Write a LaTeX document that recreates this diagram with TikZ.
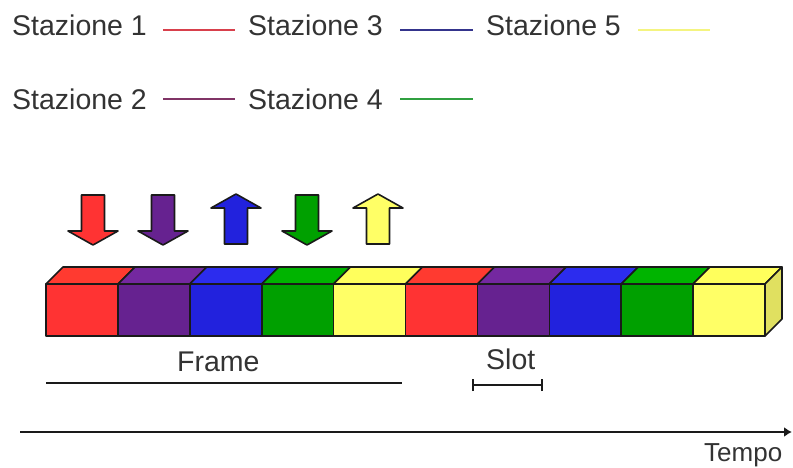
\documentclass[tikz,border=0pt]{standalone}
\usepackage{fontspec}
\setmainfont{Liberation Sans}
\usetikzlibrary{arrows.meta}

% slot colours: front faces, top faces
\definecolor{txt}{HTML}{333333}
\definecolor{edge}{HTML}{1A1A1A}
\definecolor{sred}{HTML}{FF3333}
\definecolor{spurple}{HTML}{662290}
\definecolor{sblue}{HTML}{2222DD}
\definecolor{sgreen}{HTML}{00A000}
\definecolor{syellow}{HTML}{FFFF66}
\definecolor{tred}{HTML}{FF3A30}
\definecolor{tpurple}{HTML}{7428A0}
\definecolor{tblue}{HTML}{2C2CEE}
\definecolor{tgreen}{HTML}{00B400}
\definecolor{tyellow}{HTML}{FFFF5C}
\definecolor{syside}{HTML}{E0E060}
% legend line colours
\definecolor{lred}{HTML}{D8404C}
\definecolor{lpurple}{HTML}{803466}
\definecolor{lblue}{HTML}{34348C}
\definecolor{lgreen}{HTML}{30A040}
\definecolor{lyellow}{HTML}{F4F480}

\begin{document}
\begin{tikzpicture}[x=1pt,y=-1pt,
  lbl/.style={inner sep=0pt, anchor=base west, text=txt,
              font=\fontsize{28.5}{30}\selectfont},
  keyline/.style={line width=2pt},
  face/.style={draw=edge, line width=1.6pt, line join=round},
  dnarrow/.pic={
    \path[face, fill=#1] (-11.5,-25) -- (11.5,-25) -- (11.5,11) -- (25,11)
      -- (0,25) -- (-25,11) -- (-11.5,11) -- cycle;},
  uparrow/.pic={
    \path[face, fill=#1] (-11.5,25) -- (11.5,25) -- (11.5,-11) -- (25,-11)
      -- (0,-25) -- (-25,-11) -- (-11.5,-11) -- cycle;}
]
\useasboundingbox (0,0) rectangle (793,468);

% ---- legend ----
\node[lbl] (st1) at (12,36)  {Stazione 1};
\node[lbl] (st3) at (248,36) {Stazione 3};
\node[lbl] (st5) at (486,36) {Stazione 5};
\node[lbl] (st2) at (12,110) {Stazione 2};
\node[lbl] (st4) at (248,110){Stazione 4};

\coordinate (k1a) at (163,30); \coordinate (k1b) at (235,30);
\coordinate (k3a) at (400,30); \coordinate (k3b) at (473,30);
\coordinate (k5a) at (638,30); \coordinate (k5b) at (710,30);
\coordinate (k2a) at (163,99); \coordinate (k2b) at (235,99);
\coordinate (k4a) at (400,99); \coordinate (k4b) at (473,99);
\draw[keyline, lred]    (k1a) -- (k1b);
\draw[keyline, lblue]   (k3a) -- (k3b);
\draw[keyline, lyellow] (k5a) -- (k5b);
\draw[keyline, lpurple] (k2a) -- (k2b);
\draw[keyline, lgreen]  (k4a) -- (k4b);

% ---- direction arrows above the first frame ----
\pic at (93,220)  {dnarrow=sred};
\pic at (163,220) {dnarrow=spurple};
\pic at (236,219) {uparrow=sblue};
\pic at (307,220) {dnarrow=sgreen};
\pic at (378,219) {uparrow=syellow};

% ---- row of ten slots drawn as a long bar ----
\foreach \i/\f/\t in {0/sred/tred,1/spurple/tpurple,2/sblue/tblue,3/sgreen/tgreen,4/syellow/tyellow,
                      5/sred/tred,6/spurple/tpurple,7/sblue/tblue,8/sgreen/tgreen,9/syellow/tyellow}{
  \pgfmathsetmacro{\xa}{46+71.9*\i}
  \pgfmathsetmacro{\xb}{46+71.9*(\i+1)}
  \path[face, fill=\t] (\xa,284) -- (\xa+17,267) -- (\xb+17,267) -- (\xb,284) -- cycle;
  \path[face, fill=\f] (\xa,284) rectangle (\xb,336);
}
\path[face, fill=syside] (765,284) -- (782,267) -- (782,319) -- (765,336) -- cycle;

% ---- frame and slot measures ----
\node[lbl] (frame) at (177,371) {Frame};
\coordinate (fa) at (46,383); \coordinate (fb) at (402,383);
\draw[line width=2pt, edge] (fa) -- (fb);

\node[lbl] (slot) at (486,369) {Slot};
\coordinate (sa) at (473,385); \coordinate (sb) at (542,385);
\draw[line width=1.6pt, edge] (sa) -- (sb);
\draw[line width=1.6pt, edge] ([yshift=-6]sa) -- ([yshift=6]sa);
\draw[line width=1.6pt, edge] ([yshift=-6]sb) -- ([yshift=6]sb);

% ---- time axis ----
\coordinate (ta) at (20,432); \coordinate (tb) at (792,432);
\draw[line width=2pt, edge, -{Latex[length=8pt,width=10pt]}] (ta) -- (tb);
\node[lbl] (tempo) at (704,461) {\fontsize{26}{27}\selectfont Tempo};
\end{tikzpicture}
\end{document}
